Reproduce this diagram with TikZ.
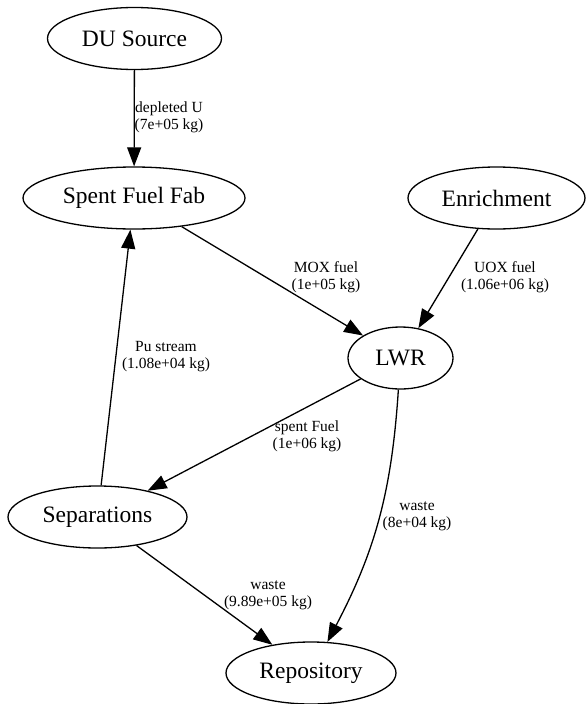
\documentclass[tikz,border=0pt]{standalone}
\usepackage{fontspec}
\setmainfont{Liberation Serif}
\usetikzlibrary{shapes.geometric,arrows.meta}
\begin{document}
\begin{tikzpicture}
                [x=1pt, y=-1pt,
                 facility/.style={ellipse, draw, line width=1.3pt, minimum height=62pt, inner sep=0pt, font=\fontsize{23.5}{28}\selectfont},
                 flow/.style={draw, line width=1.3pt, -{Triangle[length=19pt, width=14pt]}},
                 flowlabel/.style={align=center, inner sep=0pt, font=\fontsize{15.5}{17}\selectfont}]
                \useasboundingbox (0,0) rectangle (586,704);
                % Define nodes
                \node[facility, minimum width=174pt] (du) at (134.5,38.5) {DU Source};
                \node[facility, minimum width=222pt] (fab) at (134,198) {Spent Fuel Fab};
                \node[facility, minimum width=177pt] (enr) at (496.5,198) {Enrichment};
                \node[facility, minimum width=105pt] (lwr) at (400.5,358) {LWR};
                \node[facility, minimum width=179pt] (sep) at (97.5,517) {Separations};
                \node[facility, minimum width=170pt] (repo) at (311,673) {Repository};
                % Define labels
                \node[flowlabel] (dulab) at (169,117) {depleted U\\(7e+05 kg)};
                \node[flowlabel] (moxlab) at (326,277) {MOX fuel\\(1e+05 kg)};
                \node[flowlabel] (uoxlab) at (505,277) {UOX fuel\\(1.06e+06 kg)};
                \node[flowlabel] (pulab) at (166,356.5) {Pu stream\\(1.08e+04 kg)};
                \node[flowlabel] (spentlab) at (307,436.5) {spent Fuel\\(1e+06 kg)};
                \node[flowlabel] (lwrwastelab) at (417,516.5) {waste\\(8e+04 kg)};
                \node[flowlabel] (sepwastelab) at (268,595.5) {waste\\(9.89e+05 kg)};
                % Define edges
                \draw[flow] (du) -- (fab);
                \draw[flow] (fab) -- (lwr);
                \draw[flow] (enr) -- (lwr);
                \draw[flow] (sep) -- (fab);
                \draw[flow] (lwr) -- (sep);
                \draw[flow] (lwr) to[bend left=12] (repo);
                \draw[flow] (sep) -- (repo);
            \end{tikzpicture}
\end{document}
